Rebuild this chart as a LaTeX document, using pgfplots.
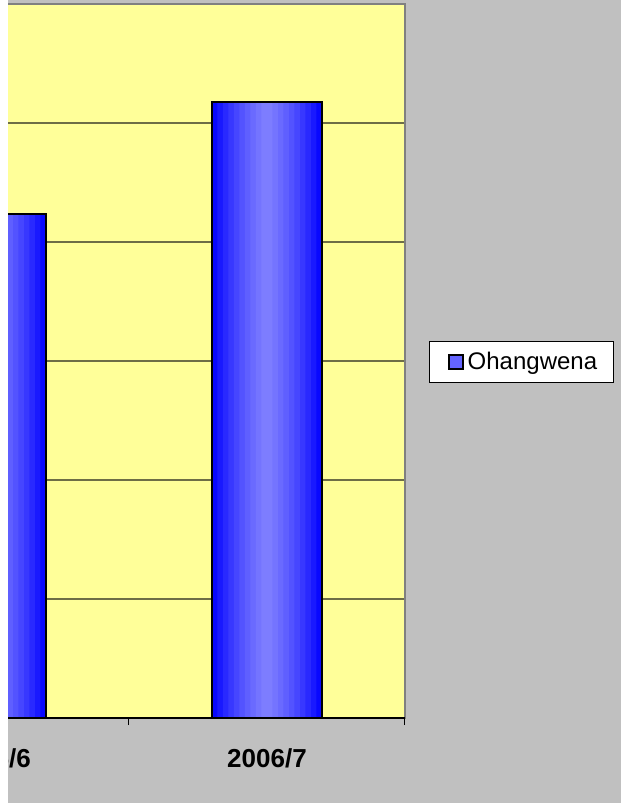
\documentclass[border=0pt]{standalone}
\usepackage{fontspec}
\setmainfont{Liberation Sans}
\usepackage{pgfplots}
\usepackage{pgfplotstable}
\pgfplotsset{compat=1.18}
\definecolor{bgray}{RGB}{192,192,192}
\definecolor{plotyel}{RGB}{255,255,153}
\definecolor{gridc}{RGB}{110,110,70}
\definecolor{framec}{RGB}{128,128,128}
\definecolor{legblue}{RGB}{100,100,255}
\definecolor{barblue}{RGB}{8,8,255}
\pgfplotstableread{
x y
0 4235
1 5176
}\datatable
\begin{document}
\begin{tikzpicture}[trim left=0pt, trim right=310.5pt]
\fill[bgray] (0,0) rectangle (310.5pt,401.5pt);
\clip (0,0) rectangle (310.5pt,401.5pt);
\begin{axis}[
  at={(-73.5pt,42.5pt)}, anchor=south west,
  scale only axis, width=276pt, height=357pt,
  xmin=-0.5, xmax=1.5, ymin=0, ymax=6000,
  axis background/.style={fill=plotyel},
  axis line style={draw=framec, line width=1pt},
  xtick={0,1}, xticklabels={2005/6,2006/7},
  major tick length=0pt,
  minor xtick={-0.5,0.5,1.5}, minor tick length=3.5pt,
  tick align=outside, xtick pos=bottom, ytick pos=left,
  tick style={black, line width=0.5pt},
  ytick={0,1000,2000,3000,4000,5000,6000}, yticklabels={},
  ymajorgrids, major grid style={draw=gridc, line width=0.6pt},
  xticklabel style={font=\fontsize{13}{15}\selectfont\bfseries, anchor=base, yshift=-24.5pt},
  legend style={at={(1.0435,0.4986)}, anchor=west, draw=black, line width=0.5pt, fill=white,
    font=\fontsize{12}{14}\selectfont, inner xsep=6.2pt, inner ysep=3.1pt},
  legend cell align=left,
  legend image code/.code={\path[draw=none,fill=none] (0pt,0pt) -- (10.5pt,0pt);\draw[fill=legblue, draw=black, line width=0.8pt] (3.5pt,-3.5pt) rectangle (10.5pt,3.5pt);},
]
\addplot[ybar, bar width=55pt, bar shift=0pt, fill=barblue, draw=none] table {\datatable};
\addlegendentry{Ohangwena}
\pgfplotsinvokeforeach{49.5pt,44pt,38.5pt,33pt,27.5pt,22pt,16.5pt,11pt,5.5pt}{
  \addplot[ybar, bar width=#1, bar shift=0pt, fill=white, fill opacity=0.072, draw=none, forget plot] table {\datatable};
}
\addplot[ybar, bar width=55pt, bar shift=0pt, fill=none, draw=black, line width=1.3pt, forget plot] table {\datatable};
\draw[black, line width=0.6pt] (rel axis cs:0,0) -- (rel axis cs:1,0);
\end{axis}
\fill[white] (0,0) rectangle (4pt,401.5pt);
\end{tikzpicture}
\end{document}
